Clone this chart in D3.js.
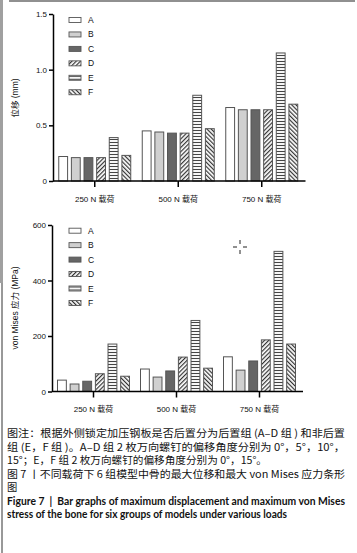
<!DOCTYPE html>
<html>
<head>
<meta charset="utf-8">
<script src="https://cdn.jsdelivr.net/npm/d3@7"></script>
<style>
  html, body { margin: 0; padding: 0; background: #fff; }
  svg { display: block; }
  .tick text { font-family: 'Liberation Sans', Arial, sans-serif; font-size: 8px; fill: #111; }
</style>
</head>
<body>
<svg id="svg" width="357" height="553"></svg>
<script>
const groups = ['250 N 载荷', '500 N 载荷', '750 N 载荷']
const series = ['A', 'B', 'C', 'D', 'E', 'F']

// 位移 (mm), A-F for each load
const disp250 = [0.22, 0.21, 0.21, 0.21, 0.39, 0.23]
const disp500 = [0.45, 0.44, 0.43, 0.43, 0.77, 0.47]
const disp750 = [0.66, 0.64, 0.64, 0.64, 1.15, 0.69]
const dispTicks = [0, 0.5, 1.0, 1.5]

// von Mises 应力 (MPa)
const stress250 = [41, 27, 37, 64, 171, 55]
const stress500 = [81, 52, 74, 124, 256, 84]
const stress750 = [125, 77, 110, 186, 505, 171]
const stressTicks = [0, 200, 400, 600]

const captionLines = [
  '图注：根据外侧锁定加压钢板是否后置分为后置组 (A–D 组 ) 和非后置',
  '组 (E，F 组 )。A–D 组 2 枚万向螺钉的偏移角度分别为 0°，5°，10°，',
  '15°；E，F 组 2 枚万向螺钉的偏移角度分别为 0°，15°。',
  '图 7 丨不同载荷下 6 组模型中骨的最大位移和最大 von Mises 应力条形',
  '图',
  'Figure 7  |  Bar graphs of maximum displacement and maximum von Mises',
  'stress of the bone for six groups of models under various loads'
]

const fills = {
  A: '#fff',
  B: '#d0d0d0',
  C: '#666',
  D: 'url(#hatchD)',
  E: 'url(#hatchE)',
  F: 'url(#hatchF)'
}

const svg = d3.select('#svg')
const defs = svg.append('defs')

const makeDiag = (id, angle) => {
  const p = defs.append('pattern')
    .attr('id', id)
    .attr('patternUnits', 'userSpaceOnUse')
    .attr('width', 3)
    .attr('height', 3)
    .attr('patternTransform', `rotate(${angle})`)
  p.append('rect').attr('width', 3).attr('height', 3).attr('fill', '#fff')
  p.append('line')
    .attr('x1', 0.6).attr('y1', 0).attr('x2', 0.6).attr('y2', 3)
    .attr('stroke', '#333').attr('stroke-width', 1.2)
}
makeDiag('hatchD', 45)
makeDiag('hatchF', -45)

const pE = defs.append('pattern')
  .attr('id', 'hatchE')
  .attr('patternUnits', 'userSpaceOnUse')
  .attr('width', 4)
  .attr('height', 3)
pE.append('rect').attr('width', 4).attr('height', 3).attr('fill', '#fff')
pE.append('line')
  .attr('x1', 0).attr('y1', 1.5).attr('x2', 4).attr('y2', 1.5)
  .attr('stroke', '#444').attr('stroke-width', 1.1)

const drawChart = (cfg) => {
  const g = svg.append('g')

  const x0 = d3.scaleBand()
    .domain(groups)
    .range(cfg.xRange)
    .padding(0)

  const x1 = d3.scaleBand()
    .domain(series)
    .range([x0.bandwidth() / 2 - 36, x0.bandwidth() / 2 + 36])
    .paddingInner(0.3)

  const y = d3.scaleLinear()
    .domain([0, cfg.ticks[cfg.ticks.length - 1]])
    .range(cfg.yRange)

  const rows = groups.map((grp, i) => ({ grp, vals: cfg.values[i] }))

  g.selectAll('g.grp')
    .data(rows)
    .join('g')
    .attr('class', 'grp')
    .attr('transform', d => `translate(${x0(d.grp)},0)`)
    .selectAll('rect')
    .data(d => d.vals.map((v, i) => ({ key: series[i], v })))
    .join('rect')
    .attr('x', d => x1(d.key))
    .attr('width', x1.bandwidth())
    .attr('y', d => y(d.v))
    .attr('height', d => y(0) - y(d.v))
    .attr('fill', d => fills[d.key])
    .attr('stroke', '#555')
    .attr('stroke-width', 1)

  const yAxis = d3.axisLeft(y)
    .tickValues(cfg.ticks)
    .tickFormat(cfg.tickFormat)
    .tickSize(4)
    .tickSizeOuter(0)
    .tickPadding(2)

  const ya = g.append('g')
    .attr('transform', `translate(${cfg.xRange[0]},0)`)
    .call(yAxis)
  ya.selectAll('path, line').attr('stroke', '#000').attr('stroke-width', 1.5)

  const xAxis = d3.axisBottom(x0)
    .tickSize(6)
    .tickSizeOuter(0)
    .tickPadding(9)

  const xa = g.append('g')
    .attr('transform', `translate(0,${cfg.yRange[0]})`)
    .call(xAxis)
  xa.select('.domain').attr('d', `M${cfg.xRange[0]},0H${cfg.xRange[1] + 2}`)
  xa.selectAll('path, line').attr('stroke', '#000').attr('stroke-width', 1.5)
  xa.selectAll('text')
    .style('font-family', "'Liberation Sans', 'Noto Sans CJK SC', sans-serif")
    .style('font-size', '8px')

  g.append('text')
    .attr('transform', `translate(18,${cfg.labelY}) rotate(-90)`)
    .attr('text-anchor', 'middle')
    .style('font-family', "'Liberation Sans', 'Noto Sans CJK SC', sans-serif")
    .style('font-size', '8.5px')
    .attr('fill', '#111')
    .text(cfg.yLabel)

  const legend = g.append('g')
    .selectAll('g')
    .data(series)
    .join('g')
    .attr('transform', (d, i) => `translate(69,${cfg.legendTop + i * 14.45})`)

  legend.append('rect')
    .attr('x', 0)
    .attr('y', -2.5)
    .attr('width', 12)
    .attr('height', 5)
    .attr('fill', d => fills[d])
    .attr('stroke', '#555')
    .attr('stroke-width', 0.9)

  legend.append('text')
    .attr('x', 19)
    .attr('y', 3)
    .style('font-family', "'Liberation Sans', Arial, sans-serif")
    .style('font-size', '8.5px')
    .attr('fill', '#111')
    .text(d => d)
}

drawChart({
  values: [disp250, disp500, disp750],
  ticks: dispTicks,
  tickFormat: d => (d === 0 ? '0' : d3.format('.1f')(d)),
  xRange: [53, 303.5],
  yRange: [181, 14],
  yLabel: '位移 (mm)',
  labelY: 98,
  legendTop: 20
})

drawChart({
  values: [stress250, stress500, stress750],
  ticks: stressTicks,
  tickFormat: d3.format('d'),
  xRange: [52, 301],
  yRange: [391.5, 225],
  yLabel: 'von Mises 应力 (MPa)',
  labelY: 308,
  legendTop: 230.7
})

// cursor mark left in the scan
const cur = svg.append('g').attr('stroke', '#222').attr('stroke-width', 1)
cur.append('path').attr('d', 'M233,247H237M243,247H247M240,240V244M240,250V254')

// page frame
svg.append('rect').attr('x', 0).attr('y', 0).attr('width', 3).attr('height', 283).attr('fill', '#a0a0a0')
svg.append('line').attr('x1', 2).attr('y1', 283).attr('x2', 2).attr('y2', 553).attr('stroke', '#333').attr('stroke-width', 1)
svg.append('line').attr('x1', 9).attr('y1', 1).attr('x2', 355).attr('y2', 1).attr('stroke', '#222').attr('stroke-width', 1.2)

// caption
const widths = [338, 338, 260, 338, null, 338, 280]
svg.append('g')
  .selectAll('text')
  .data(captionLines)
  .join('text')
  .attr('x', 7)
  .attr('y', (d, i) => 437 + i * 13.5)
  .attr('textLength', (d, i) => widths[i])
  .attr('lengthAdjust', 'spacingAndGlyphs')
  .style('white-space', 'pre')
  .style('font-family', (d, i) => i >= 5 ? "Lato, 'Open Sans', sans-serif" : "'Noto Sans CJK SC', sans-serif")
  .style('font-weight', (d, i) => i >= 5 ? 700 : 400)
  .style('font-size', (d, i) => i >= 5 ? '10.5px' : '10.3px')
  .attr('fill', '#111')
  .text(d => d)
</script>
</body>
</html>
